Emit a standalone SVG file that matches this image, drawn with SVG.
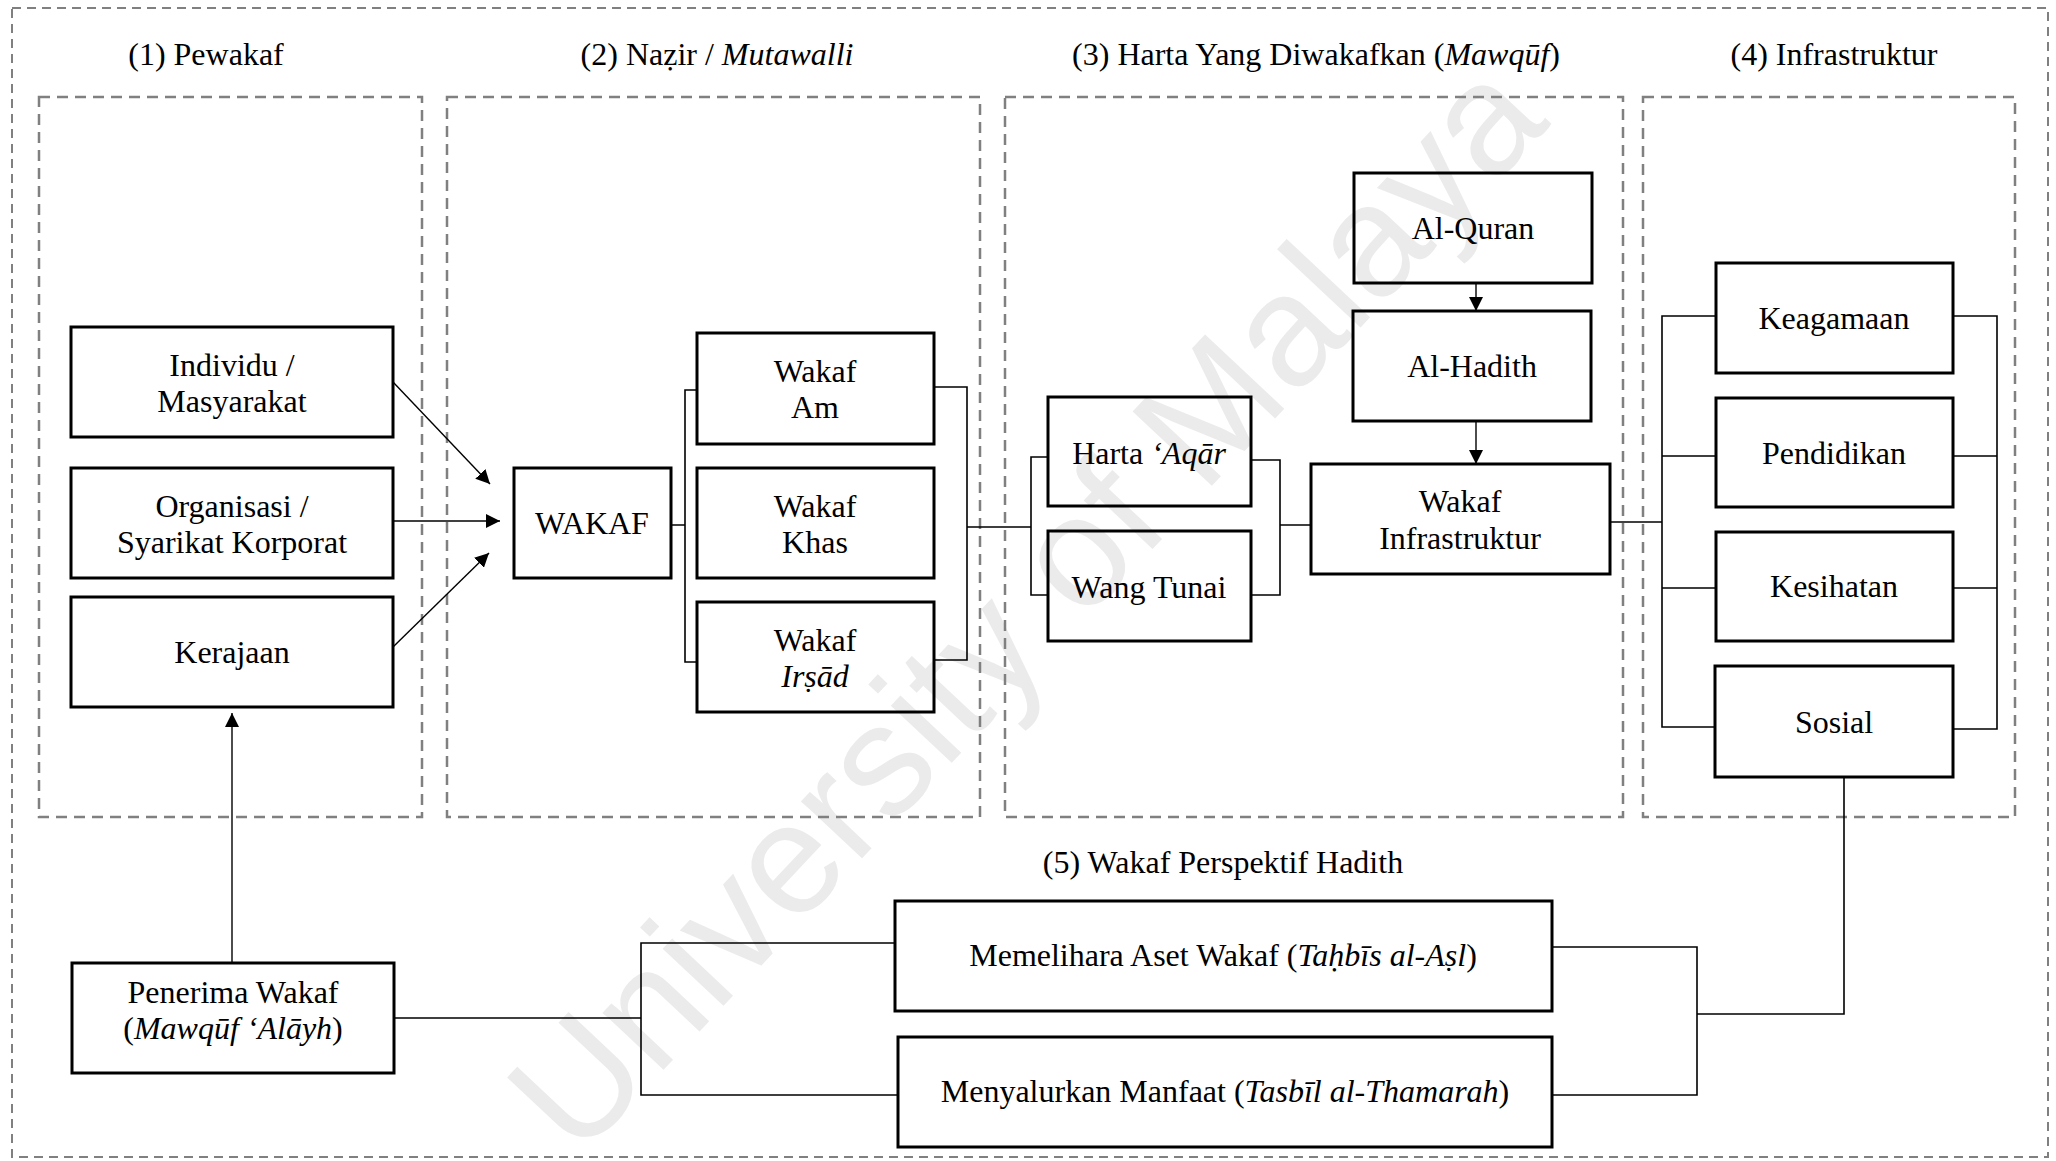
<svg xmlns="http://www.w3.org/2000/svg" width="2056" height="1161" viewBox="0 0 2056 1161">
<style>
.bg{fill:#fff}
.wm{font-family:"Liberation Sans",Arial,sans-serif;font-size:158px;fill:#ebebeb;text-anchor:middle}
.outer{fill:none;stroke:#808080;stroke-width:2;stroke-dasharray:9 6}
.panel{fill:none;stroke:#808080;stroke-width:2.5;stroke-dasharray:11 7}
.box{fill:none;stroke:#000;stroke-width:3}
.t{font-family:"Liberation Serif","Times New Roman",serif;font-size:32px;fill:#000;text-anchor:middle}
.i{font-style:italic}
.conn{fill:none;stroke:#000;stroke-width:1.6}
.arr{fill:none;stroke:#000;stroke-width:1.4}
</style>
<defs>
<marker id="ah" markerUnits="userSpaceOnUse" markerWidth="14" markerHeight="14" refX="14" refY="7" orient="auto">
<path d="M0,0 L14,7 L0,14 z" fill="#000"/>
</marker>
</defs>
<rect class="bg" x="0" y="0" width="2056" height="1161"/>
<text class="wm" transform="translate(1024,604) rotate(-46.8)" x="0" y="56">University of Malaya</text>

<g id="frames">
<rect class="outer" x="12" y="8" width="2036" height="1149"/>
<rect class="panel" x="39" y="97" width="383" height="720"/>
<rect class="panel" x="447" y="97" width="533" height="720"/>
<rect class="panel" x="1005" y="97" width="618" height="720"/>
<rect class="panel" x="1643" y="97" width="372" height="720"/>
</g>

<g id="titles">
<text class="t" x="206" y="65">(1) Pewakaf</text>
<text class="t" x="717" y="65">(2) Naẓir / <tspan class="i">Mutawalli</tspan></text>
<text class="t" x="1316" y="65">(3) Harta Yang Diwakafkan (<tspan class="i">Mawqūf</tspan>)</text>
<text class="t" x="1834" y="65">(4) Infrastruktur</text>
<text class="t" x="1223" y="873">(5) Wakaf Perspektif Hadith</text>
</g>

<g id="connectors">
<path class="arr" d="M393,382 L490,484" marker-end="url(#ah)"/>
<path class="arr" d="M393,521 L500,521" marker-end="url(#ah)"/>
<path class="arr" d="M393,647 L489,553" marker-end="url(#ah)"/>
<path class="arr" d="M232,963 L232,713" marker-end="url(#ah)"/>
<path class="conn" d="M671,525 H685 M697,390 H685 V662 H697"/>
<path class="conn" d="M934,387 H967 V660 H934 M967,527 H1031"/>
<path class="conn" d="M1048,457 H1031 V595 H1048"/>
<path class="conn" d="M1251,460 H1280 V595 H1251 M1280,525 H1311"/>
<path class="arr" d="M1476,283 V311" marker-end="url(#ah)"/>
<path class="arr" d="M1476,421 V464" marker-end="url(#ah)"/>
<path class="conn" d="M1610,522 H1662"/>
<path class="conn" d="M1716,316 H1662 V727 H1715 M1662,456 H1716 M1662,588 H1716"/>
<path class="conn" d="M1953,316 H1997 V729 H1953 M1997,456 H1953 M1997,588 H1953"/>
<path class="conn" d="M1844,777 V1014 H1697 M1552,947 H1697 V1095 H1552"/>
<path class="conn" d="M394,1018 H641 M895,943 H641 V1095 H898"/>
</g>

<g id="n-individu"><rect class="box" x="71" y="327" width="322" height="110"/>
<text class="t" x="232" y="376">Individu /</text><text class="t" x="232" y="412">Masyarakat</text></g>
<g id="n-organisasi"><rect class="box" x="71" y="468" width="322" height="110"/>
<text class="t" x="232" y="517">Organisasi /</text><text class="t" x="232" y="553">Syarikat Korporat</text></g>
<g id="n-kerajaan"><rect class="box" x="71" y="597" width="322" height="110"/>
<text class="t" x="232" y="663">Kerajaan</text></g>
<g id="n-wakaf"><rect class="box" x="514" y="468" width="157" height="110"/>
<text class="t" x="592" y="534">WAKAF</text></g>
<g id="n-wakaf-am"><rect class="box" x="697" y="333" width="237" height="111"/>
<text class="t" x="815" y="382">Wakaf</text><text class="t" x="815" y="418">Am</text></g>
<g id="n-wakaf-khas"><rect class="box" x="697" y="468" width="237" height="110"/>
<text class="t" x="815" y="517">Wakaf</text><text class="t" x="815" y="553">Khas</text></g>
<g id="n-wakaf-irsad"><rect class="box" x="697" y="602" width="237" height="110"/>
<text class="t" x="815" y="651">Wakaf</text><text class="t i" x="815" y="687">Irṣād</text></g>
<g id="n-harta-aqar"><rect class="box" x="1048" y="397" width="203" height="109"/>
<text class="t" x="1149" y="464">Harta <tspan class="i">‘Aqār</tspan></text></g>
<g id="n-wang-tunai"><rect class="box" x="1048" y="531" width="203" height="110"/>
<text class="t" x="1149" y="598">Wang Tunai</text></g>
<g id="n-alquran"><rect class="box" x="1354" y="173" width="238" height="110"/>
<text class="t" x="1473" y="239">Al-Quran</text></g>
<g id="n-alhadith"><rect class="box" x="1353" y="311" width="238" height="110"/>
<text class="t" x="1472" y="377">Al-Hadith</text></g>
<g id="n-wakaf-infra"><rect class="box" x="1311" y="464" width="299" height="110"/>
<text class="t" x="1460" y="512">Wakaf</text><text class="t" x="1460" y="549">Infrastruktur</text></g>
<g id="n-keagamaan"><rect class="box" x="1716" y="263" width="237" height="110"/>
<text class="t" x="1834" y="329">Keagamaan</text></g>
<g id="n-pendidikan"><rect class="box" x="1716" y="398" width="237" height="109"/>
<text class="t" x="1834" y="464">Pendidikan</text></g>
<g id="n-kesihatan"><rect class="box" x="1716" y="532" width="237" height="109"/>
<text class="t" x="1834" y="597">Kesihatan</text></g>
<g id="n-sosial"><rect class="box" x="1715" y="666" width="238" height="111"/>
<text class="t" x="1834" y="733">Sosial</text></g>
<g id="n-penerima"><rect class="box" x="72" y="963" width="322" height="110"/>
<text class="t" x="233" y="1003">Penerima Wakaf</text><text class="t" x="233" y="1039">(<tspan class="i">Mawqūf ‘Alāyh</tspan>)</text></g>
<g id="n-memelihara"><rect class="box" x="895" y="901" width="657" height="110"/>
<text class="t" x="1223" y="966">Memelihara Aset Wakaf (<tspan class="i">Taḥbīs al-Aṣl</tspan>)</text></g>
<g id="n-menyalurkan"><rect class="box" x="898" y="1037" width="654" height="110"/>
<text class="t" x="1225" y="1102">Menyalurkan Manfaat (<tspan class="i">Tasbīl al-Thamarah</tspan>)</text></g>
</svg>
